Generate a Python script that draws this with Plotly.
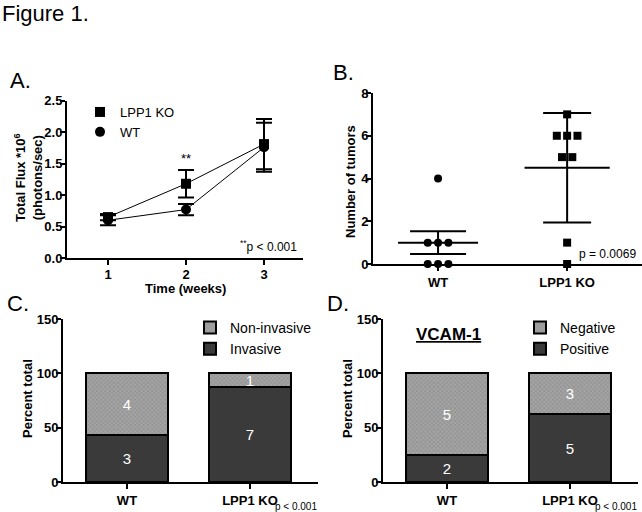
import numpy as np
import plotly.graph_objects as go

# ---------------- data ----------------
weeks = [1, 2, 3]
ko_flux = [0.65, 1.18, 1.81]
ko_err = [0.05, 0.22, 0.40]
wt_flux = [0.60, 0.77, 1.76]
wt_err = [0.08, 0.09, 0.39]

groups = ["WT", "LPP1 KO"]
wt_tumors = [4, 1, 1, 1, 0, 0, 0]
ko_tumors = [7, 6, 6, 6, 5, 5, 1, 0]

inv_counts = [3, 7]
noninv_counts = [4, 1]
inv_pct = [42.86, 87.5]
noninv_pct = [57.14, 12.5]

pos_counts = [2, 5]
neg_counts = [5, 3]
pos_pct = [25.0, 62.5]
neg_pct = [75.0, 37.5]

FONT = "Liberation Sans"
DARK = "#3a3a3a"
LIGHT = "#a4a4a4"

fig = go.Figure()

# ---------------- Panel A ----------------
fig.add_trace(go.Scatter(x=weeks, y=wt_flux, mode="lines+markers", showlegend=False,
                         line=dict(color="black", width=1),
                         marker=dict(symbol="circle", size=10, color="black"),
                         error_y=dict(type="data", array=wt_err, color="black", thickness=2, width=8),
                         xaxis="x", yaxis="y", cliponaxis=False))
fig.add_trace(go.Scatter(x=weeks, y=ko_flux, mode="lines+markers", showlegend=False,
                         line=dict(color="black", width=1),
                         marker=dict(symbol="square", size=10, color="black"),
                         error_y=dict(type="data", array=ko_err, color="black", thickness=2, width=8),
                         xaxis="x", yaxis="y", cliponaxis=False))
fig.add_trace(go.Scatter(x=[None], y=[None], mode="markers", name="LPP1 KO",
                         marker=dict(symbol="square", size=10, color="black"),
                         xaxis="x", yaxis="y", legend="legend"))
fig.add_trace(go.Scatter(x=[None], y=[None], mode="markers", name="WT",
                         marker=dict(symbol="circle", size=10, color="black"),
                         xaxis="x", yaxis="y", legend="legend"))

# ---------------- Panel B ----------------
def jitter(vals, center):
    xs = []
    vals = list(vals)
    seen = {}
    counts = {v: vals.count(v) for v in vals}
    for v in vals:
        n = counts[v]
        i = seen.get(v, 0)
        seen[v] = i + 1
        xs.append(center + (i - (n - 1) / 2) * 0.08)
    return xs

for gi, (vals, sym, errkind) in enumerate([(wt_tumors, "circle", "sem"), (ko_tumors, "square", "sd")]):
    arr = np.array(vals, dtype=float)
    m = arr.mean()
    sd = arr.std(ddof=1)
    e = sd / np.sqrt(len(arr)) if errkind == "sem" else sd
    fig.add_trace(go.Scatter(x=jitter(vals, gi), y=vals, mode="markers", showlegend=False,
                             marker=dict(symbol=sym, size=8, color="black"),
                             xaxis="x2", yaxis="y2", cliponaxis=False))
    half = 0.31 if gi == 0 else 0.33
    fig.add_trace(go.Scatter(x=[gi - half, gi + half], y=[m, m], mode="lines", showlegend=False,
                             line=dict(color="black", width=2), xaxis="x2", yaxis="y2"))
    fig.add_trace(go.Scatter(x=[gi], y=[m], mode="markers", showlegend=False,
                             marker=dict(size=1, color="rgba(0,0,0,0)"),
                             error_y=dict(type="data", array=[e], color="black", thickness=2,
                                          width=28 if gi == 0 else 24),
                             xaxis="x2", yaxis="y2"))

# ---------------- Panel C ----------------
bar_line = dict(color="black", width=2)
pattern = dict(shape="x", fgcolor="#666666", bgcolor=LIGHT, size=3, solidity=0.3)
txt = dict(textposition="inside", insidetextanchor="middle", textangle=0, constraintext="none",
           textfont=dict(color="white", size=15, family=FONT))
fig.add_trace(go.Bar(x=[0, 1], y=inv_pct, name="Invasive", width=0.67,
                     marker=dict(color=DARK, line=bar_line),
                     text=[str(c) for c in inv_counts], **txt,
                     xaxis="x3", yaxis="y3", legend="legend2"))
fig.add_trace(go.Bar(x=[0, 1], y=noninv_pct, name="Non-invasive", width=0.67,
                     marker=dict(color=LIGHT, line=bar_line, pattern=pattern),
                     text=[str(c) for c in noninv_counts], **txt,
                     xaxis="x3", yaxis="y3", legend="legend2"))

# ---------------- Panel D ----------------
fig.add_trace(go.Bar(x=[0, 1], y=pos_pct, name="Positive", width=0.67,
                     marker=dict(color=DARK, line=bar_line),
                     text=[str(c) for c in pos_counts], **txt,
                     xaxis="x4", yaxis="y4", legend="legend3"))
fig.add_trace(go.Bar(x=[0, 1], y=neg_pct, name="Negative", width=0.67,
                     marker=dict(color=LIGHT, line=bar_line, pattern=pattern),
                     text=[str(c) for c in neg_counts], **txt,
                     xaxis="x4", yaxis="y4", legend="legend3"))

W, H = 642, 512
def px(x): return x / W
def py(y): return 1 - y / H

axis_common = dict(showline=True, linecolor="black", linewidth=2, ticks="outside",
                   tickcolor="black", tickwidth=2, ticklen=5, showgrid=False, zeroline=False,
                   automargin=False,
                   tickfont=dict(family=FONT, size=13, color="black", weight="bold"))
yaxis_common = dict(axis_common, ticklabelstandoff=-5)
xaxisA_common = dict(axis_common, ticklabelstandoff=-2)

fig.update_layout(
    width=W, height=H, margin=dict(l=0, r=0, t=0, b=0, pad=0),
    paper_bgcolor="white", plot_bgcolor="white",
    font=dict(family=FONT, color="black"),
    barmode="stack",
    xaxis=dict(domain=[px(67), px(303)], range=[0.474, 3.5], tickvals=weeks,
               ticktext=[str(w) for w in weeks], anchor="y", **xaxisA_common),
    yaxis=dict(domain=[py(258), py(100.7)], range=[0, 2.5], dtick=0.5, tickformat=".1f", anchor="x",
               **yaxis_common),
    xaxis2=dict(domain=[px(373), px(642)], range=[-0.504, 1.58], tickvals=[0, 1], ticktext=groups,
                anchor="y2", **axis_common),
    yaxis2=dict(domain=[py(264), py(93)], range=[0, 8], dtick=2, anchor="x2", **yaxis_common),
    xaxis3=dict(domain=[px(63), px(318)], range=[-0.52, 1.553], tickvals=[0, 1], ticktext=groups,
                anchor="y3", **axis_common),
    yaxis3=dict(domain=[py(482), py(319)], range=[0, 150], dtick=50, anchor="x3", **yaxis_common),
    xaxis4=dict(domain=[px(383), px(638)], range=[-0.52, 1.553], tickvals=[0, 1], ticktext=groups,
                anchor="y4", **axis_common),
    yaxis4=dict(domain=[py(482), py(319)], range=[0, 150], dtick=50, anchor="x4", **yaxis_common),
    legend=dict(x=px(80), y=py(97), xanchor="left", yanchor="top", bgcolor="rgba(0,0,0,0)",
                font=dict(family=FONT, size=13, color="black"), itemwidth=30, tracegroupgap=0),
    legend2=dict(x=px(190), y=py(312), xanchor="left", yanchor="top", bgcolor="rgba(0,0,0,0)",
                 traceorder="reversed", font=dict(family=FONT, size=14, color="black"), itemwidth=30),
    legend3=dict(x=px(520), y=py(312), xanchor="left", yanchor="top", bgcolor="rgba(0,0,0,0)",
                 traceorder="reversed", font=dict(family=FONT, size=14, color="black"), itemwidth=30),
)

def ann(text, x, y, size, xanchor="left", yanchor="middle", bold=False, angle=0):
    fig.add_annotation(text=text, x=px(x), y=py(y), xref="paper", yref="paper",
                       xanchor=xanchor, yanchor=yanchor, showarrow=False, textangle=angle,
                       font=dict(family=FONT, size=size, color="black", weight="bold" if bold else "normal"))

ann("Figure 1.", 0, 13, 22)
ann("A.", 8, 80, 22)
ann("B.", 331, 72, 22)
ann("C.", 5, 303, 22)
ann("D.", 325, 303, 22)
ann("**", 186, 158, 13, xanchor="center")
ann("<sup>**</sup>p < 0.001", 299, 246, 12, xanchor="right")
ann("p = 0.0069", 638, 254, 12, xanchor="right")
ann("p < 0.001", 319, 506, 10, xanchor="right")
ann("p < 0.001", 639, 506, 10, xanchor="right")
ann("<u>VCAM-1</u>", 448, 334, 17, xanchor="center", bold=True)
# axis titles
ann("Time (weeks)", 186, 288, 13, xanchor="center", bold=True)
ann("Total Flux *10<sup>6</sup><br>(photons/sec)", 28, 178, 13, xanchor="center", bold=True, angle=-90)
ann("Number of tumors", 350, 181, 13, xanchor="center", bold=True, angle=-90)
ann("Percent total", 27, 399, 13, xanchor="center", bold=True, angle=-90)
ann("Percent total", 347, 399, 13, xanchor="center", bold=True, angle=-90)

fig.write_html("out.html", config={"displayModeBar": False},
               post_script="document.body.style.margin='0px';document.body.style.overflow='hidden';")
